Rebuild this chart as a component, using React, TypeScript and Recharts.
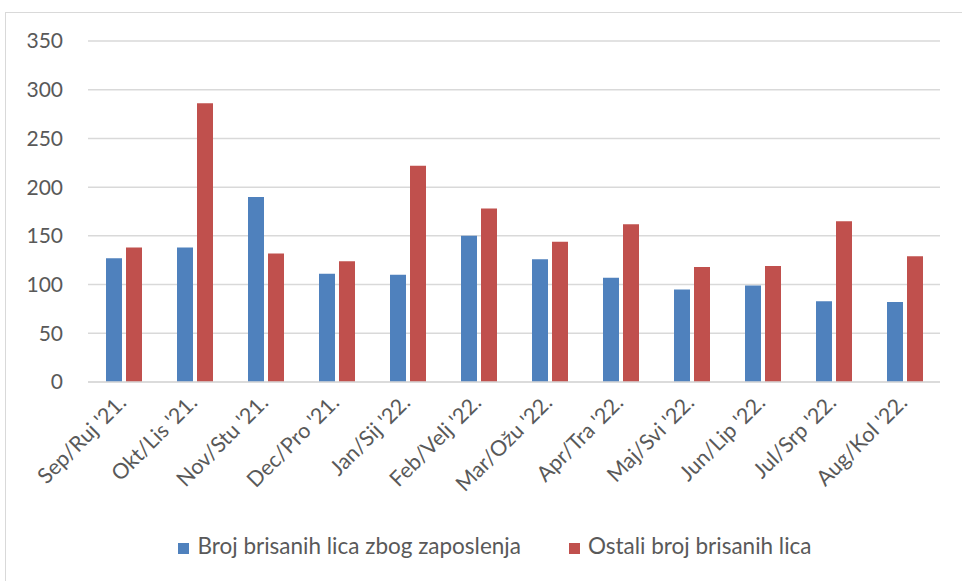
import { BarChart, Bar, XAxis, YAxis, CartesianGrid, Legend } from "recharts";

const months = [
  "Sep/Ruj '21.",
  "Okt/Lis '21.",
  "Nov/Stu '21.",
  "Dec/Pro '21.",
  "Jan/Sij '22.",
  "Feb/Velj '22.",
  "Mar/Ožu '22.",
  "Apr/Tra '22.",
  "Maj/Svi '22.",
  "Jun/Lip '22.",
  "Jul/Srp '22.",
  "Aug/Kol '22.",
];
const employed = [127, 138, 190, 111, 110, 150, 126, 107, 95, 99, 83, 82];
const others = [138, 286, 132, 124, 222, 178, 144, 162, 118, 119, 165, 129];
const yTicks = [0, 50, 100, 150, 200, 250, 300, 350];

const data = months.map((m, i) => ({
  name: m,
  employed: employed[i],
  others: others[i],
}));

const FONT = "Lato, 'Open Sans', sans-serif";
const TEXT = "#595959";

function MonthTick(props: any) {
  const { x, y, payload } = props;
  return (
    <g transform={`translate(${x + 4},${y + 14})`}>
      <text
        textAnchor="end"
        transform="rotate(-45)"
        fill={TEXT}
        fontSize={21.5}
        fontFamily={FONT}
      >
        {payload.value}
      </text>
    </g>
  );
}

export default function App() {
  return (
    <div
      style={{
        position: "absolute",
        left: 0,
        top: 0,
        width: 962,
        height: 581,
        overflow: "hidden",
        background: "#fff",
      }}
    >
      <div
        style={{
          position: "absolute",
          left: 5,
          top: 12,
          width: 1000,
          height: 620,
          border: "1px solid #d9d9d9",
        }}
      />
      <div style={{ position: "absolute", left: 0, top: 0 }}>
        <BarChart
          width={962}
          height={581}
          data={data}
          margin={{ top: 41, right: 22, left: 0, bottom: 0 }}
          barGap={4}
          barSize={16}
        >
          <CartesianGrid vertical={false} stroke="#d9d9d9" strokeWidth={1.5} />
          <XAxis
            dataKey="name"
            tick={<MonthTick />}
            tickLine={false}
            axisLine={{ stroke: "#d9d9d9", strokeWidth: 1.5 }}
            interval={0}
            height={129}
          />
          <YAxis
            width={88}
            domain={[0, 350]}
            ticks={yTicks}
            tickLine={false}
            axisLine={false}
            tickMargin={19}
            tick={{ fill: TEXT, fontSize: 21, fontFamily: FONT }}
          />
          <Legend
            verticalAlign="bottom"
            height={70}
            iconType="square"
            iconSize={11}
            wrapperStyle={{ fontFamily: FONT, fontSize: 22.5, top: 532, left: 30 }}
            formatter={(v: string, _e: any, i: number) => (
              <span
                style={{
                  color: TEXT,
                  marginLeft: 4,
                  marginRight: i === 0 ? 38 : 0,
                }}
              >
                {v}
              </span>
            )}
          />
          <Bar
            dataKey="employed"
            name="Broj brisanih lica zbog zaposlenja"
            fill="#4f81bd"
            isAnimationActive={false}
          />
          <Bar
            dataKey="others"
            name="Ostali broj brisanih lica"
            fill="#c0504d"
            isAnimationActive={false}
          />
        </BarChart>
      </div>
    </div>
  );
}
